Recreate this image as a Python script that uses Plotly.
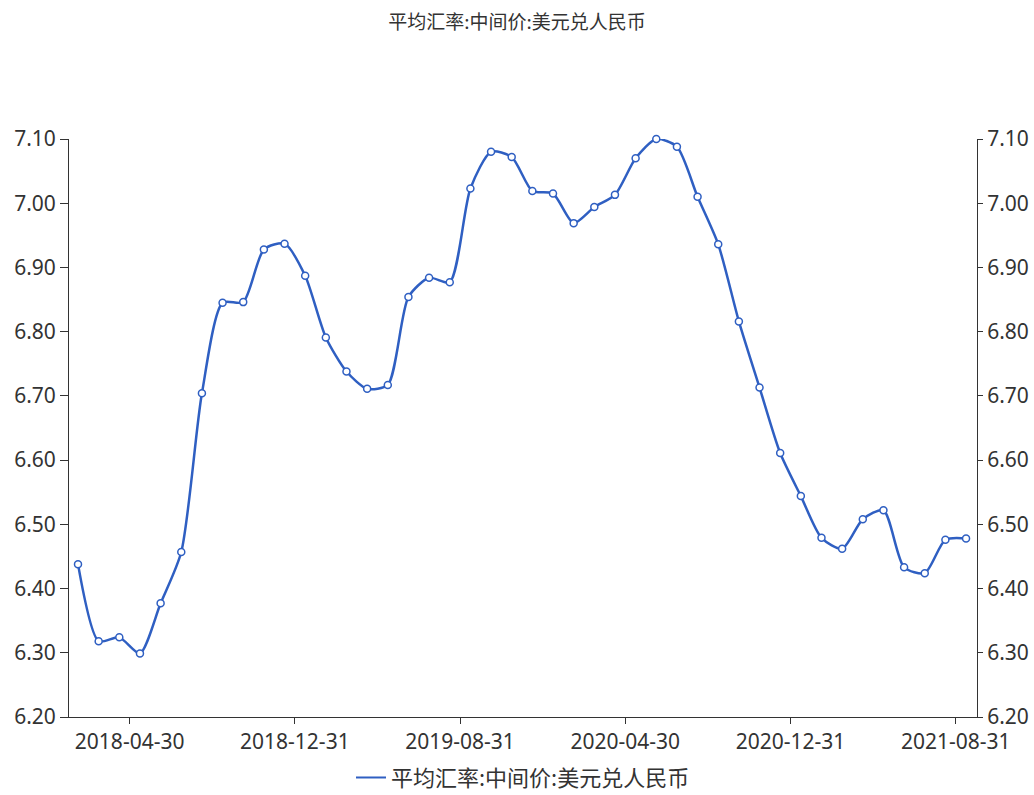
import plotly.graph_objects as go

months = [f"{y}-{m:02d}" for y in (2018, 2019, 2020, 2021) for m in range(1, 13)][:44]
rate = [6.438, 6.318, 6.324, 6.299, 6.377, 6.457, 6.704, 6.845, 6.846, 6.928, 6.937,
        6.887, 6.791, 6.738, 6.711, 6.717, 6.854, 6.884, 6.877, 7.023, 7.080, 7.072,
        7.019, 7.015, 6.969, 6.994, 7.013, 7.070, 7.100, 7.088, 7.010, 6.936, 6.816,
        6.713, 6.611, 6.544, 6.479, 6.462, 6.508, 6.522, 6.433, 6.424, 6.476, 6.478]
tick_labels = ["2018-04-30", "2018-12-31", "2019-08-31", "2020-04-30", "2020-12-31", "2021-08-31"]
tick_pos = [2.5, 10.5, 18.5, 26.5, 34.5, 42.5]
y_ticks = [6.2, 6.3, 6.4, 6.5, 6.6, 6.7, 6.8, 6.9, 7.0, 7.1]

name = "平均汇率:中间价:美元兑人民币"
color = "#2f5fc2"
idx = list(range(len(rate)))

fig = go.Figure()
fig.add_trace(go.Scatter(
    x=idx, y=rate, name=name, mode="lines+markers", showlegend=False, cliponaxis=False,
    line=dict(color=color, width=2.5, shape="spline", smoothing=0.7),
    marker=dict(symbol="circle", size=7, color="white", line=dict(color=color, width=1.5)),
    customdata=months, hovertemplate="%{customdata}: %{y:.4f}<extra></extra>",
))
# legend entry (line only)
fig.add_trace(go.Scatter(
    x=[None], y=[None], name=name, mode="lines",
    line=dict(color=color, width=2), showlegend=True, hoverinfo="skip",
))
fig.add_trace(go.Scatter(
    x=idx, y=rate, yaxis="y2", mode="lines", line=dict(width=0, color="rgba(0,0,0,0)"),
    showlegend=False, hoverinfo="skip",
))

font_family = "Noto Sans, Noto Sans CJK SC, sans-serif"
axis_common = dict(showgrid=False, zeroline=False, showline=True, linecolor="#333",
                   linewidth=1, ticks="outside", tickcolor="#333", automargin=False,
                   tickfont=dict(size=21, color="#333"))

fig.update_layout(
    width=1034, height=795,
    margin=dict(l=69, r=57, t=139, b=78, autoexpand=False),
    paper_bgcolor="white", plot_bgcolor="white",
    font=dict(family=font_family, color="#333"),
    title=dict(text=name, x=0.5, xanchor="center", y=1 - 22 / 795, yanchor="middle",
               font=dict(size=19, color="#333", family="Noto Sans CJK SC, sans-serif")),
    xaxis=dict(range=[-0.436, 43.53], tickvals=tick_pos, ticktext=tick_labels,
               ticklen=6, **axis_common),
    yaxis=dict(range=[6.2, 7.1], tickvals=y_ticks, tickformat=".2f", ticklen=8,
               **axis_common),
    yaxis2=dict(range=[6.2, 7.1], tickvals=y_ticks, tickformat=".2f", ticklen=5,
                overlaying="y", side="right", anchor="x", **axis_common),
    showlegend=True,
    legend=dict(orientation="h", x=0.5, xanchor="center", y=-0.105, yanchor="middle",
                font=dict(size=22, color="#333", family="Noto Sans CJK SC, sans-serif"),
                itemwidth=30),
    hovermode="closest",
)

fig.write_html("out.html", config={"displayModeBar": False},
               post_script="document.body.style.margin='0';")
